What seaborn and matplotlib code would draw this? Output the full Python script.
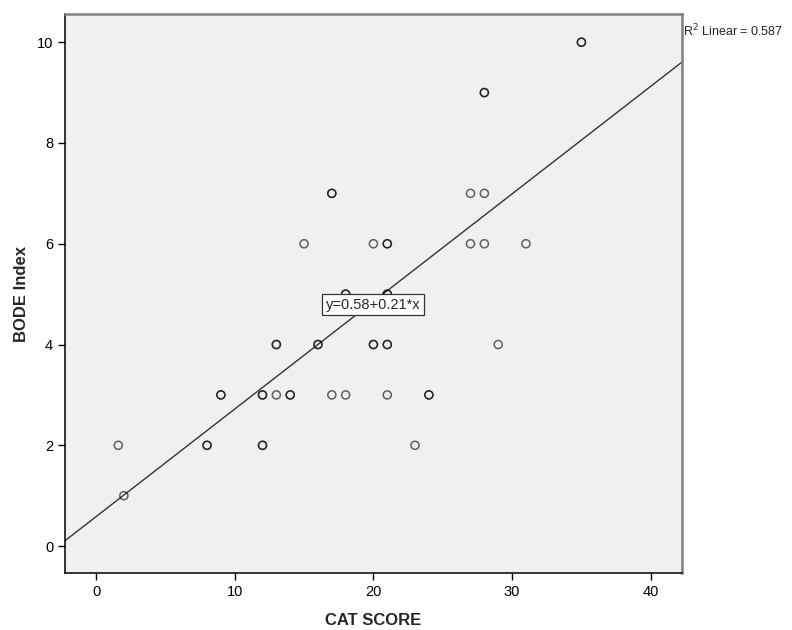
import matplotlib
matplotlib.use('Agg')
import matplotlib.pyplot as plt
import pandas as pd
import seaborn as sns

# CAT score vs BODE index (overlapping cases listed twice)
cat_score = [1.6, 2, 8, 8, 9, 9, 12, 12, 12, 12, 13, 13, 13, 14, 14, 15,
             16, 16, 17, 17, 17, 18, 18, 18, 20, 20, 20, 21, 21, 21, 21,
             21, 21, 21, 23, 24, 24, 27, 27, 28, 28, 28, 28, 29, 31, 35, 35]
bode_index = [2, 1, 2, 2, 3, 3, 3, 3, 2, 2, 3, 4, 4, 3, 3, 6,
              4, 4, 7, 7, 3, 5, 5, 3, 6, 4, 4, 6, 6, 5, 5,
              4, 4, 3, 2, 3, 3, 7, 6, 9, 9, 7, 6, 4, 6, 10, 10]

fit_intercept = 0.585
fit_slope = 0.2135
fit_label = 'y=0.58+0.21*x'
r2_label = 'R$^2$ Linear = 0.587'

df = pd.DataFrame({'CAT SCORE': cat_score, 'BODE Index': bode_index})

sns.set_style('ticks')
plt.rcParams['font.family'] = ['Liberation Sans', 'DejaVu Sans']

fig = plt.figure(figsize=(7.92, 6.3), dpi=100)
ax = fig.add_axes([0.0821, 0.09, 0.7786, 0.8878])
ax.set_facecolor('#f0f0f0')

sns.scatterplot(data=df, x='CAT SCORE', y='BODE Index', ax=ax,
                marker='o', s=34, facecolor='none',
                edgecolor=(0, 0, 0, 0.6), linewidth=1.1, zorder=3)

ax.axline((0, fit_intercept), slope=fit_slope, color='#333333', lw=1.0, zorder=2)

ax.set_xlim(-2.24, 42.23)
ax.set_ylim(-0.54, 10.56)
ax.set_xticks([0, 10, 20, 30, 40])
ax.set_yticks([0, 2, 4, 6, 8, 10])

narrow = ['Liberation Sans Narrow', 'Liberation Sans', 'DejaVu Sans']
ax.tick_params(direction='out', length=5, width=1, colors='black', labelsize=10.5)
for lab in ax.get_xticklabels() + ax.get_yticklabels():
    lab.set_family(narrow)

for side in ['left', 'bottom']:
    ax.spines[side].set_color('black')
    ax.spines[side].set_linewidth(1.1)
for side in ['top', 'right']:
    ax.spines[side].set_visible(True)
    ax.spines[side].set_color('#808080')
    ax.spines[side].set_linewidth(1.8)

ax.set_xlabel('CAT SCORE', fontsize=12, fontweight='bold', labelpad=10)
ax.set_ylabel('BODE Index', fontsize=12, fontweight='bold', labelpad=6)

ax.text(0.5, 0.48, fit_label, transform=ax.transAxes, ha='center', va='center',
        fontsize=10.5, family=narrow, zorder=5,
        bbox=dict(boxstyle='square,pad=0.25', facecolor='white', edgecolor='#333333', lw=0.9))

ax.text(1.002, 0.985, r2_label, transform=ax.transAxes, ha='left', va='top',
        fontsize=9, clip_on=False)

fig.savefig('out.png', dpi=100)
